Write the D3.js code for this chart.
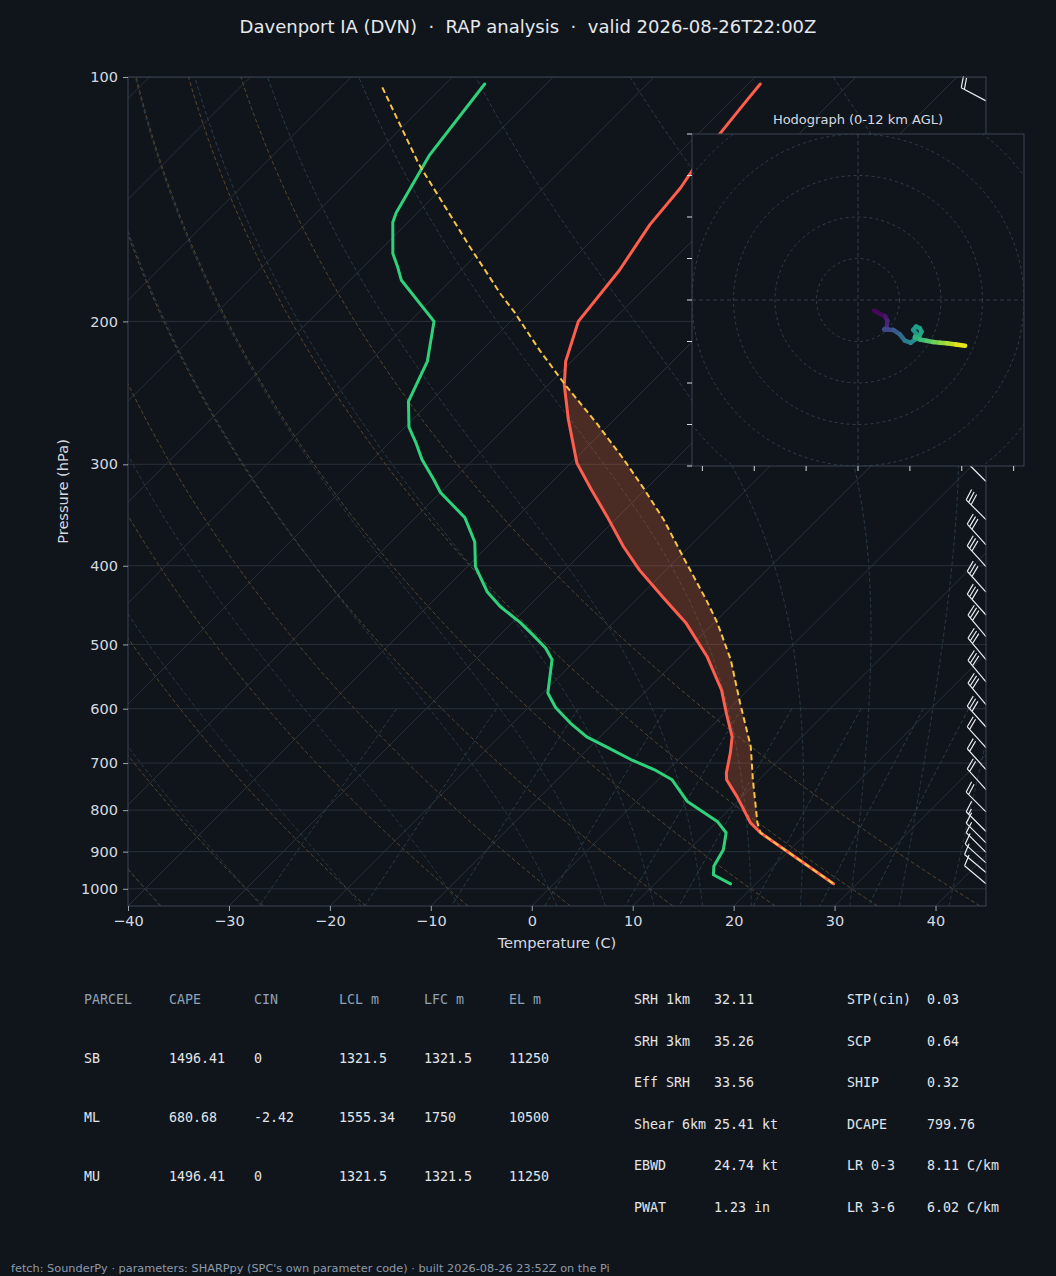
<!DOCTYPE html>
<html><head><meta charset="utf-8">
<script src="https://cdn.jsdelivr.net/npm/d3@7"></script>
<style>
html,body{margin:0;padding:0;background:#10151c;}
svg{display:block;}
</style></head><body>
<svg id="c" width="1056" height="1276"></svg>
<script>
// ---------------- data ----------------
const titleText = "Davenport IA (DVN)  \u00b7  RAP analysis  \u00b7  valid 2026-08-26T22:00Z";
const footerText = "fetch: SounderPy \u00b7 parameters: SHARPpy (SPC's own parameter code) \u00b7 built 2026-08-26 23:52Z on the Pi";

const tempP = [102,107,117,130,137,152,173,200,224,239.5,264,299,322,348,379,405,438,471,517,569,608,650,680,720,734,770,792,829,853,986];
const tempT = [-58.8,-58.5,-57.9,-57.0,-56.4,-55.8,-54.3,-53.3,-50.6,-48.4,-44.6,-39.4,-35.4,-31.1,-26.5,-22.6,-17.5,-12.7,-7.4,-2.6,0.2,3.1,4.5,6.1,6.8,9.5,11.0,13.4,15.4,27.7];

const dewP = [102,125,147,151,165,171,178,200,224,251,270,282,296,313,325,349,374,401,431,449,470,487,505,522,574,598,625,650,671,693,713,734,780,826,853,895,938,961,986];
const dewT = [-86.1,-84.5,-82.1,-81.5,-78.4,-76.7,-74.9,-67.6,-64.3,-62.2,-59.6,-57.4,-55.1,-52.0,-50.0,-45.1,-41.7,-39.2,-35.5,-32.8,-29.2,-26.7,-24.2,-22.4,-19.5,-17.3,-14.3,-11.3,-8.0,-4.7,-1.4,1.4,5.0,10.0,12.0,13.4,14.1,14.9,17.5];

const parcelP = [103,128,162,173,184.5,195,217,239.5,267,296,320,351,390,441,470,522,590,668,734,829,853,986];
const parcelT = [-95.9,-84.7,-71.4,-67.6,-63.9,-60.5,-54.3,-48.3,-41.4,-35.1,-30.5,-25.2,-19.6,-13.0,-9.7,-4.7,0.5,5.9,9.4,14.1,15.4,27.7];
const lfcP = 853, elP = 239.5;

const barbP   = [107,315,351,377,401,431,460,489,522,556,593,632,670,713,755,804,850,878,902,929,955,986];
const barbSpd = [20, 30, 30, 30, 30, 30, 30, 30, 30, 30, 30, 30, 20, 20, 20, 20, 15, 10, 10, 10, 10, 10];
const barbDir = [298,315,315,318,318,318,318,320,320,320,320,318,318,318,318,315,315,315,315,312,310,310];

const hodoU = [3.9,6.5,7.1,6.9,6.3,8.5,10.1,11.3,12.7,13.7,14.0,13.3,14.0,14.9,15.3,14.8,13.7,14.9,16.5,18.1,19.8,21.4,23.6,25.8];
const hodoV = [-2.6,-3.9,-5.0,-6.7,-7.1,-7.2,-8.3,-9.8,-10.3,-9.5,-8.0,-7.2,-6.4,-6.8,-7.6,-8.7,-9.0,-9.5,-9.8,-10.1,-10.3,-10.4,-10.7,-11.0];
const hodoZ = [0,0.5,1.0,1.6,2.3,3.0,3.8,4.6,5.4,6.0,6.2,6.4,6.6,6.8,7.0,7.2,7.4,7.9,8.5,9.1,9.7,10.3,11.1,12.0];
const hodoRings = [10,20,30,40,50];
const hodoYTicks = [-40,-30,-20,-10,0,10,20,30,40];
const hodoXTicks = [-37.5,-25,-12.5,0,12.5,25,37.5];

const xTicks = [-40,-30,-20,-10,0,10,20,30,40];
const pTicks = [100,200,300,400,500,600,700,800,900,1000];
const isoT = d3.range(-160, 50, 10);
const dryT0 = [-40,-30,-20,-10,0,10,20,30,40];
const moistT0 = [-40,-30,-20,-10,0,5,10,15,20,25,30,35,40,45];
const mixW = [0.0004,0.001,0.002,0.004,0.007,0.01,0.016,0.024,0.032];

const parcelHeader = ["PARCEL","CAPE","CIN","LCL m","LFC m","EL m"];
const parcelRows = [
  ["SB","1496.41","0","1321.5","1321.5","11250"],
  ["ML","680.68","-2.42","1555.34","1750","10500"],
  ["MU","1496.41","0","1321.5","1321.5","11250"]
];
const paramLeft = [["SRH 1km","32.11"],["SRH 3km","35.26"],["Eff SRH","33.56"],["Shear 6km","25.41 kt"],["EBWD","24.74 kt"],["PWAT","1.23 in"]];
const paramRight = [["STP(cin)","0.03"],["SCP","0.64"],["SHIP","0.32"],["DCAPE","799.76"],["LR 0-3","8.11 C/km"],["LR 3-6","6.02 C/km"]];

// ---------------- setup ----------------
const BG = "#10151c";
const svg = d3.select("#c");
svg.append("rect").attr("width",1056).attr("height",1276).attr("fill",BG);
const X0=128, X1=986, Y0=77, Y1=906;
const x = d3.scaleLinear().domain([-40,45]).range([X0,X1]);
const y = d3.scaleLog().domain([1050,100]).range([Y1,Y0]);
const sx = (T,p) => x(T) + (Y1 - y(p));
const line = d3.line().x(d=>sx(d.T,d.p)).y(d=>y(d.p));

const defs = svg.append("defs");
defs.append("clipPath").attr("id","plotclip")
  .append("rect").attr("x",X0).attr("y",Y0).attr("width",X1-X0).attr("height",Y1-Y0);
const plot = svg.append("g").attr("clip-path","url(#plotclip)");

// isobars
plot.selectAll("line.isobar").data(pTicks).join("line")
  .attr("x1",X0).attr("x2",X1).attr("y1",d=>y(d)).attr("y2",d=>y(d))
  .attr("stroke","#28303a").attr("stroke-width",1);
// isotherms
plot.selectAll("line.iso").data(isoT).join("line")
  .attr("x1",d=>sx(d,1050)).attr("y1",y(1050)).attr("x2",d=>sx(d,100)).attr("y2",y(100))
  .attr("stroke","#29303a").attr("stroke-width",1);

const pLevels = d3.range(1050, 99, -5);
// dry adiabats
dryT0.forEach(t0=>{
  const pts = pLevels.map(p=>({p, T:(t0+273.15)*Math.pow(p/1000,0.28571)-273.15}));
  plot.append("path").attr("d",line(pts)).attr("fill","none")
    .attr("stroke","#57472f").attr("stroke-width",1).attr("stroke-dasharray","4,2.5");
});
// moist adiabats
function es(Tc){return 6.112*Math.exp(17.67*Tc/(Tc+243.5));}
function dTdp(p,T){
  const e = es(T-273.15); const r = 0.622*e/Math.max(p-e,1e-3);
  return (287.04*T + 2.501e6*r)/(1005.7 + 2.501e6*2.501e6*r*0.622/(287.04*T*T))/p;
}
function integrate(p0,T0,p1,step){
  const out=[{p:p0,T:T0-273.15}]; let p=p0, T=T0;
  const n = Math.ceil(Math.abs(p1-p0)/step); const h=(p1-p0)/n;
  for(let i=0;i<n;i++){
    const k1=dTdp(p,T), k2=dTdp(p+h/2,T+h/2*k1), k3=dTdp(p+h/2,T+h/2*k2), k4=dTdp(p+h,T+h*k3);
    T += h/6*(k1+2*k2+2*k3+k4); p += h; out.push({p,T:T-273.15});
  }
  return out;
}
moistT0.forEach(t0=>{
  const up = integrate(1000,t0+273.15,100,2);
  const dn = integrate(1000,t0+273.15,1050,2);
  const pts = dn.reverse().concat(up.slice(1));
  plot.append("path").attr("d",line(pts)).attr("fill","none")
    .attr("stroke","#2a3b48").attr("stroke-width",1).attr("stroke-dasharray","4,2.5");
});
// mixing ratio lines
const mixP = d3.range(600, 1051, 10);
mixW.forEach(w=>{
  const pts = mixP.map(p=>{const e=p*w/(0.622+w); const l=Math.log(e/6.112); return {p, T:243.5*l/(17.67-l)};});
  plot.append("path").attr("d",line(pts)).attr("fill","none")
    .attr("stroke","#293d45").attr("stroke-width",1).attr("stroke-dasharray","4,2.5");
});

// CAPE shading
const parcelPts = parcelP.map((p,i)=>({p,T:parcelT[i]}));
const tempPts = tempP.map((p,i)=>({p,T:tempT[i]}));
const dewPts = dewP.map((p,i)=>({p,T:dewT[i]}));
const capeA = parcelPts.filter(d=>d.p>=elP && d.p<=lfcP).sort((a,b)=>b.p-a.p);
const capeB = tempPts.filter(d=>d.p>=elP && d.p<=lfcP).sort((a,b)=>a.p-b.p);
plot.append("path").attr("d", line(capeA.concat(capeB))+"Z")
  .attr("fill","#e86a40").attr("fill-opacity",0.27).attr("stroke","none");

// profiles
plot.append("path").attr("d",line(dewPts)).attr("fill","none").attr("stroke","#2fd27a")
  .attr("stroke-width",3).attr("stroke-linejoin","round").attr("stroke-linecap","round");
plot.append("path").attr("d",line(tempPts)).attr("fill","none").attr("stroke","#ff5e4d")
  .attr("stroke-width",3).attr("stroke-linejoin","round").attr("stroke-linecap","round");
plot.append("path").attr("d",line(parcelPts)).attr("fill","none").attr("stroke","#f7c446")
  .attr("stroke-width",2).attr("stroke-dasharray","6,3.5");

// wind barbs
const barbG = svg.append("g");
const L = 28;
barbP.forEach((p,i)=>{
  const spd = Math.round(barbSpd[i]/5)*5;
  const dr = barbDir[i]*Math.PI/180;
  const dx = Math.sin(dr), dy = -Math.cos(dr);
  const px = -dy, py = dx;
  const bx = X1, by = y(p);
  const tx = bx + dx*L, ty = by + dy*L;
  let path = `M${bx},${by}L${tx},${ty}`;
  let nflag = Math.floor(spd/50), rem = spd - nflag*50;
  let nfull = Math.floor(rem/10), nhalf = (rem - nfull*10)>=5 ? 1 : 0;
  let off = 0; const sp = 0.125*L, hgt = 0.4*L;
  for(let k=0;k<nflag;k++){
    const ax=tx-dx*off, ay=ty-dy*off;
    const cx=ax-dx*0.25*L, cy=ay-dy*0.25*L;
    const ex=ax+px*hgt-dx*0.125*L, ey=ay+py*hgt-dy*0.125*L;
    path += `M${ax},${ay}L${ex},${ey}L${cx},${cy}Z`;
    off += 0.25*L + sp;
  }
  if(nflag===0 && nfull===0 && nhalf===1) off += 1.5*sp;
  for(let k=0;k<nfull;k++){
    const ax=tx-dx*off, ay=ty-dy*off;
    path += `M${ax},${ay}L${ax+px*hgt+dx*sp},${ay+py*hgt+dy*sp}`;
    off += sp;
  }
  if(nhalf){
    const ax=tx-dx*off, ay=ty-dy*off;
    path += `M${ax},${ay}L${ax+px*hgt/2+dx*sp/2},${ay+py*hgt/2+dy*sp/2}`;
  }
  barbG.append("path").attr("d",path).attr("fill","#e8ebef").attr("stroke","#e8ebef")
    .attr("stroke-width",1.2).attr("stroke-linecap","butt");
});

// frame
svg.append("rect").attr("x",X0).attr("y",Y0).attr("width",X1-X0).attr("height",Y1-Y0)
  .attr("fill","none").attr("stroke","#3a4452").attr("stroke-width",1);

// axes
const styleAxis = g=>{
  g.select(".domain").remove();
  g.selectAll(".tick line").attr("stroke","#9aa3ae");
  g.selectAll(".tick text").attr("fill","#d6dae0").style("font-family","DejaVu Sans").style("font-size","14.5px");
};
svg.append("g").attr("transform",`translate(0,${Y1})`)
  .call(d3.axisBottom(x).tickValues(xTicks).tickSize(5).tickPadding(5)).call(styleAxis);
svg.append("g").attr("transform",`translate(${X0},0)`)
  .call(d3.axisLeft(y).tickValues(pTicks).tickFormat(d3.format("d")).tickSize(5).tickPadding(5)).call(styleAxis);

svg.append("text").attr("x",(X0+X1)/2).attr("y",948).attr("text-anchor","middle")
  .attr("fill","#d6dae0").style("font-family","DejaVu Sans").style("font-size","14.6px").text("Temperature (C)");
svg.append("text").attr("transform",`translate(68,${(Y0+Y1)/2}) rotate(-90)`).attr("text-anchor","middle")
  .attr("fill","#d6dae0").style("font-family","DejaVu Sans").style("font-size","14.6px").text("Pressure (hPa)");

svg.append("text").attr("x",528).attr("y",33).attr("text-anchor","middle")
  .attr("fill","#e6e8eb").style("font-family","DejaVu Sans").style("font-size","18px")
  .style("white-space","pre").attr("xml:space","preserve").text(titleText);

// ---------------- hodograph inset ----------------
const HX0=692, HX1=1024, HY0=134, HY1=466;
const hx = d3.scaleLinear().domain([-40,40]).range([HX0,HX1]);
const hy = d3.scaleLinear().domain([-40,40]).range([HY1,HY0]);
const hz = d3.scaleSequential(d3.interpolateViridis).domain([0,12]);
const hodo = svg.append("g");
hodo.append("rect").attr("x",HX0).attr("y",HY0).attr("width",HX1-HX0).attr("height",HY1-HY0).attr("fill",BG);
defs.append("clipPath").attr("id","hclip")
  .append("rect").attr("x",HX0).attr("y",HY0).attr("width",HX1-HX0).attr("height",HY1-HY0);
const hin = hodo.append("g").attr("clip-path","url(#hclip)");
hin.selectAll("circle").data(hodoRings).join("circle")
  .attr("cx",hx(0)).attr("cy",hy(0)).attr("r",d=>hx(d)-hx(0))
  .attr("fill","none").attr("stroke","#333c48").attr("stroke-width",1).attr("stroke-dasharray","3,3");
hin.append("line").attr("x1",HX0).attr("x2",HX1).attr("y1",hy(0)).attr("y2",hy(0))
  .attr("stroke","#333c48").attr("stroke-dasharray","4,3");
hin.append("line").attr("y1",HY0).attr("y2",HY1).attr("x1",hx(0)).attr("x2",hx(0))
  .attr("stroke","#333c48").attr("stroke-dasharray","4,3");
const nH = hodoU.length;
for(let i=0;i<nH-1;i++){
  hin.append("line").attr("x1",hx(hodoU[i])).attr("y1",hy(hodoV[i]))
    .attr("x2",hx(hodoU[i+1])).attr("y2",hy(hodoV[i+1]))
    .attr("stroke",hz((hodoZ[i]+hodoZ[i+1])/2)).attr("stroke-width",4.5).attr("stroke-linecap","round");
}
hodo.append("rect").attr("x",HX0).attr("y",HY0).attr("width",HX1-HX0).attr("height",HY1-HY0)
  .attr("fill","none").attr("stroke","#3a4452").attr("stroke-width",1);
hodo.selectAll("line.yt").data(hodoYTicks).join("line").attr("class","yt")
  .attr("x1",HX0-5).attr("x2",HX0).attr("y1",d=>hy(d)).attr("y2",d=>hy(d)).attr("stroke","#d6dae0");
hodo.selectAll("line.xt").data(hodoXTicks).join("line").attr("class","xt")
  .attr("y1",HY1).attr("y2",HY1+5).attr("x1",d=>hx(d)).attr("x2",d=>hx(d)).attr("stroke","#d6dae0");
hodo.append("text").attr("x",(HX0+HX1)/2).attr("y",124).attr("text-anchor","middle")
  .attr("fill","#d6dae0").style("font-family","DejaVu Sans").style("font-size","13px").text("Hodograph (0-12 km AGL)");

// ---------------- tables ----------------
const mono = "DejaVu Sans Mono";
const tbl = svg.append("g").style("font-family",mono).style("font-size","13.3px");
parcelHeader.forEach((h,i)=>{
  tbl.append("text").attr("x",84+i*85).attr("y",1004).attr("fill","#8fa1b6").text(h);
});
parcelRows.forEach((r,j)=>{
  r.forEach((v,i)=>{
    tbl.append("text").attr("x",84+i*85).attr("y",1063+j*59).attr("fill","#e2e5e9").text(v);
  });
});
paramLeft.forEach((r,j)=>{
  tbl.append("text").attr("x",634).attr("y",1004+j*41.5).attr("fill","#e2e5e9").text(r[0]);
  tbl.append("text").attr("x",714).attr("y",1004+j*41.5).attr("fill","#e2e5e9").text(r[1]);
});
paramRight.forEach((r,j)=>{
  tbl.append("text").attr("x",847).attr("y",1004+j*41.5).attr("fill","#e2e5e9").text(r[0]);
  tbl.append("text").attr("x",927).attr("y",1004+j*41.5).attr("fill","#e2e5e9").text(r[1]);
});

svg.append("text").attr("x",11).attr("y",1272).attr("fill","#8e9aaa")
  .style("font-family","DejaVu Sans").style("font-size","11.3px").text(footerText);
</script>
</body></html>
